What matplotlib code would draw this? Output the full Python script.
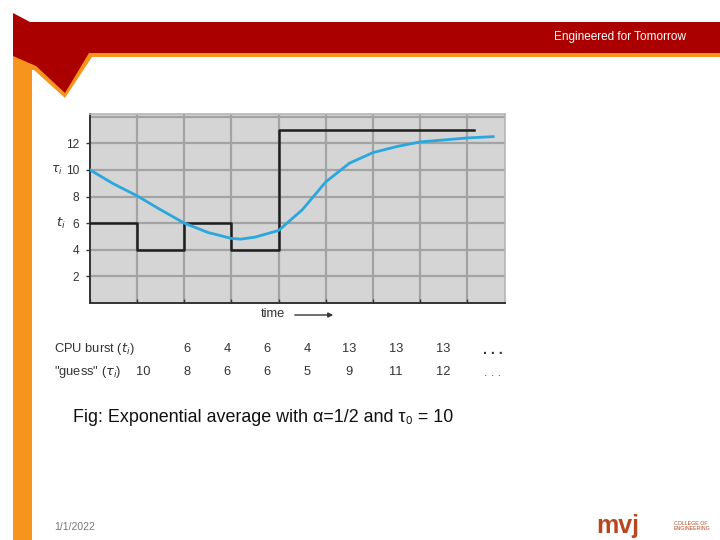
import matplotlib
matplotlib.use("Agg")
import matplotlib.pyplot as plt
from matplotlib.patches import Polygon

# CPU burst lengths and predicted ("guess") values
cpu_burst = [6, 4, 6, 4, 13, 13, 13]
guess = [10, 8, 6, 6, 5, 9, 11, 12]

# smooth prediction curve
curve_t = [0, 0.5, 1, 1.5, 2, 2.5, 3, 3.2, 3.5, 4, 4.5, 5, 5.5, 6, 6.5, 7, 7.5, 8, 8.55]
curve_tau = [10, 8.95, 8.05, 7.0, 6.0, 5.3, 4.85, 4.8, 4.95, 5.45, 7.0, 9.1, 10.5,
             11.3, 11.75, 12.1, 12.25, 12.4, 12.5]

y_ticks = [2, 4, 6, 8, 10, 12]

RED = "#ab0000"
ORANGE = "#f7941d"
BLUE = "#2aa7de"
INK = "#333333"
FONT = ["Liberation Sans", "DejaVu Sans"]
FS = 9.3

fig = plt.figure(figsize=(7.2, 5.4), dpi=100)

# slide background in pixel coordinates
bg = fig.add_axes([0, 0, 1, 1])
bg.set_xlim(0, 720)
bg.set_ylim(540, 0)
bg.axis("off")

orange = Polygon([(13, 50), (720, 50), (720, 57), (92, 57), (65, 98), (34, 70),
                  (32, 70), (32, 540), (13, 540)], closed=True, color=ORANGE, lw=0)
red = Polygon([(13, 13), (30, 22), (720, 22), (720, 53), (89, 53), (65, 93),
               (36, 66), (13, 56)], closed=True, color=RED, lw=0)
bg.add_patch(orange)
bg.add_patch(red)
bg.text(686, 37, "Engineered for Tomorrow", color="white", fontsize=8.5,
        ha="right", va="center", family=FONT)

# chart
ax = fig.add_axes([90 / 720, 1 - 303 / 540, 415 / 720, 189 / 540])
ax.set_facecolor("#d5d5d5")
ax.set_xlim(0, 8.8)
ax.set_ylim(0, 14.2)
for x in range(1, 9):
    ax.axvline(x, color="#a3a3a3", lw=1.6, zorder=1)
for y in y_ticks + [14]:
    ax.axhline(y, color="#a3a3a3", lw=1.6, zorder=1)

step_x = list(range(len(cpu_burst))) + [8.15]
step_y = cpu_burst + [cpu_burst[-1]]
ax.step(step_x, step_y, where="post", color="#1e1e1e", lw=1.8, zorder=3)
ax.plot(curve_t, curve_tau, color=BLUE, lw=2, zorder=4, solid_joinstyle="round")

ax.set_xticks(range(0, 9))
ax.set_xticklabels([])
ax.set_yticks(y_ticks)
ax.set_yticklabels([str(v) for v in y_ticks], family=FONT, fontsize=8.6, color=INK)
ax.tick_params(axis="x", direction="in", length=3, width=1, color=INK)
ax.tick_params(axis="y", direction="out", length=3, width=1, color=INK, pad=5)
for side in ["left", "bottom"]:
    ax.spines[side].set_color(INK)
    ax.spines[side].set_linewidth(1.4)
for side in ["top", "right"]:
    ax.spines[side].set_color("#b5b5b5")
    ax.spines[side].set_linewidth(1.2)

# axis side labels
bg.text(51, 170, r"$\tau_i$", fontsize=9, color=INK, va="center")
bg.text(56, 223, r"$t_i$", fontsize=9.5, color=INK, va="center")

# time arrow
bg.text(261, 314, "time", fontsize=FS, family=FONT, color=INK, va="center")
bg.annotate("", xy=(336, 315), xytext=(292, 315),
            arrowprops=dict(arrowstyle="-|>", color=INK, lw=1, mutation_scale=7))

# table below chart
col_x = [143, 187, 227, 267, 307, 349, 396, 443]
bg.text(54, 349, r"CPU burst ($t_i$)", fontsize=FS, family=FONT, color=INK, va="center")
bg.text(54, 372, "\"guess\" (" + r"$\tau_i$" + ")", fontsize=FS, family=FONT,
        color=INK, va="center")
for x, v in zip(col_x[1:], cpu_burst):
    bg.text(x, 349, str(v), fontsize=FS, family=FONT, color=INK, ha="center", va="center")
for x, v in zip(col_x, guess):
    bg.text(x, 372, str(v), fontsize=FS, family=FONT, color=INK, ha="center", va="center")
bg.text(493, 350, ". . .", fontsize=10, fontweight="bold", family=FONT, color=INK,
        ha="center", va="center")
bg.text(493, 373, ". . .", fontsize=9, family=FONT, color="#555555", ha="center", va="center")

# caption
bg.text(73, 418, "Fig: Exponential average with \u03b1=1/2 and \u03c4\u2080 = 10", fontsize=12.9,
        family=FONT, color="#111111", va="center")

# footer
bg.text(54, 527, "1/1/2022", fontsize=7.5, family=FONT, color="#777777", va="center")
bg.text(596, 526, "mvj", fontsize=18, fontweight="bold", color="#b8461e", va="center",
        family=FONT)
bg.text(674, 526, "COLLEGE OF\nENGINEERING", fontsize=3.8, color="#b8461e", va="center",
        linespacing=1.1, family=FONT)

fig.savefig("out.png", dpi=100)
